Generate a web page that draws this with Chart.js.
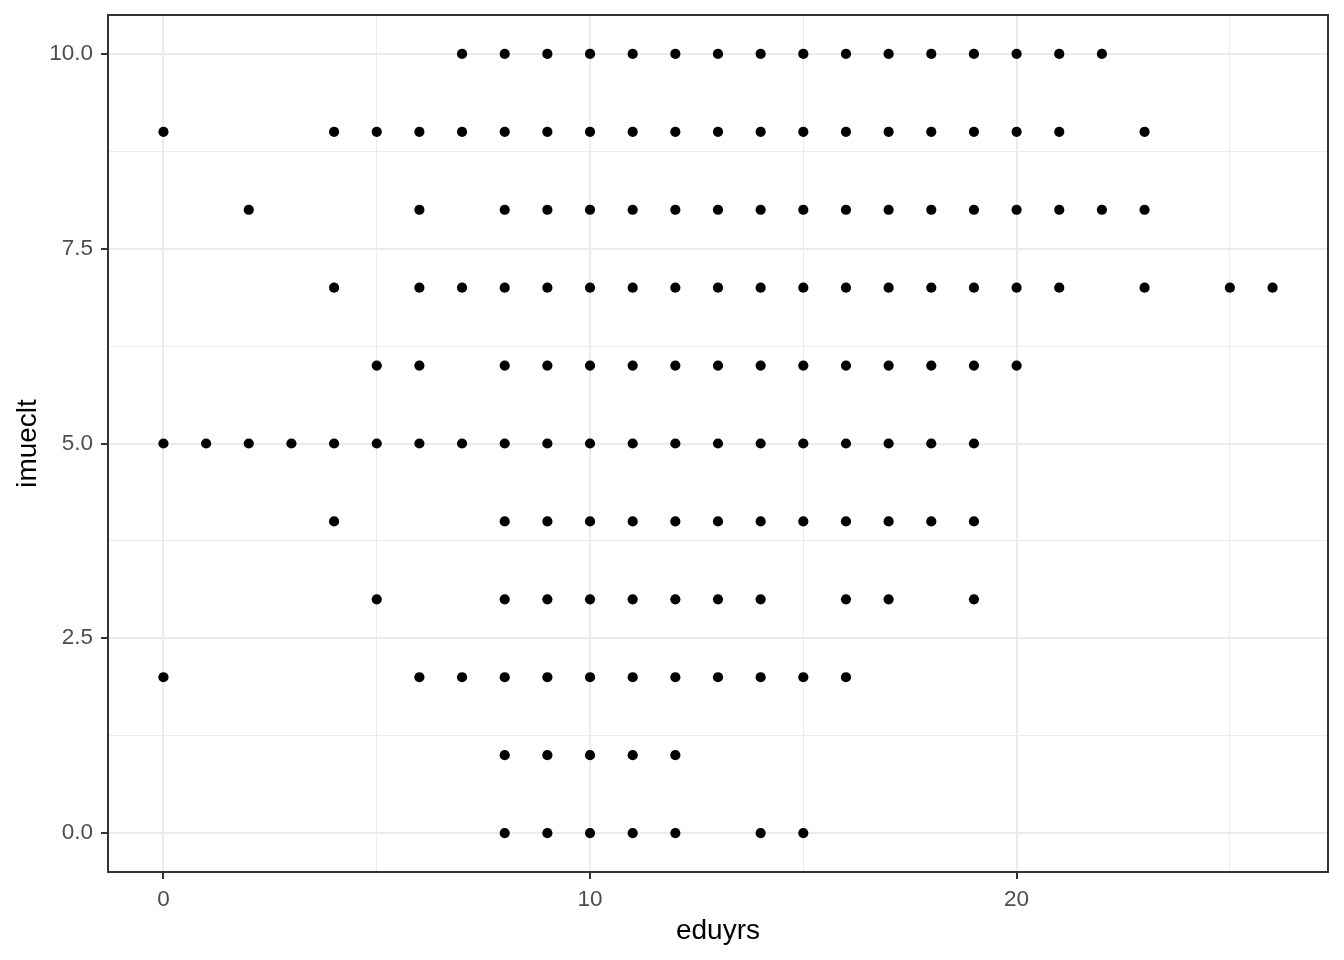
<!DOCTYPE html>
<html>
<head>
<meta charset="utf-8">
<script src="https://cdn.jsdelivr.net/npm/chart.js@4.4.1/dist/chart.umd.min.js"></script>
<style>
  html, body { margin: 0; padding: 0; background: #ffffff; }
  canvas { display: block; background: #ffffff; }
</style>
</head>
<body>
<canvas id="c" width="1344" height="960"></canvas>
<script>
// ---- data: eduyrs values observed at each imueclt level ----
const imueclt10 = [7,8,9,10,11,12,13,14,15,16,17,18,19,20,21,22];
const imueclt9  = [0,4,5,6,7,8,9,10,11,12,13,14,15,16,17,18,19,20,21,23];
const imueclt8  = [2,6,8,9,10,11,12,13,14,15,16,17,18,19,20,21,22,23];
const imueclt7  = [4,6,7,8,9,10,11,12,13,14,15,16,17,18,19,20,21,23,25,26];
const imueclt6  = [5,6,8,9,10,11,12,13,14,15,16,17,18,19,20];
const imueclt5  = [0,1,2,3,4,5,6,7,8,9,10,11,12,13,14,15,16,17,18,19];
const imueclt4  = [4,8,9,10,11,12,13,14,15,16,17,18,19];
const imueclt3  = [5,8,9,10,11,12,13,14,16,17,19];
const imueclt2  = [0,6,7,8,9,10,11,12,13,14,15,16];
const imueclt1  = [8,9,10,11,12];
const imueclt0  = [8,9,10,11,12,14,15];

const levels = [10,9,8,7,6,5,4,3,2,1,0];
const rows = [imueclt10, imueclt9, imueclt8, imueclt7, imueclt6, imueclt5, imueclt4, imueclt3, imueclt2, imueclt1, imueclt0];

// ---- axis breaks ----
const xMajorTicks = [0, 10, 20];
const xMinorTicks = [5, 15, 25];
const yMajorTicks = [0, 2.5, 5, 7.5, 10];
const yMinorTicks = [1.25, 3.75, 6.25, 8.75];

const xTitle = 'eduyrs';
const yTitle = 'imueclt';

const points = [];
rows.forEach((xs, i) => xs.forEach(x => points.push({ x: x, y: levels[i] })));

const FONT = '"Liberation Sans", Arial, Helvetica, sans-serif';
const GRID = '#EBEBEB';
const INK = '#333333';

function isMajor(list, v) { return list.some(m => Math.abs(m - v) < 1e-9); }

const panelBorder = {
  id: 'panelBorder',
  afterDatasetsDraw(chart) {
    const a = chart.chartArea, ctx = chart.ctx;
    ctx.save();
    ctx.strokeStyle = INK;
    ctx.lineWidth = 2;
    ctx.strokeRect(a.left, a.top, a.right - a.left, a.bottom - a.top);
    ctx.restore();
  }
};

new Chart(document.getElementById('c'), {
  type: 'scatter',
  data: {
    datasets: [{
      data: points,
      backgroundColor: '#000000',
      borderWidth: 0,
      pointRadius: 5.1,
      pointHoverRadius: 5.1
    }]
  },
  options: {
    responsive: false,
    devicePixelRatio: 1,
    animation: false,
    events: [],
    layout: { padding: { left: 0, top: 15, right: 16, bottom: 0 } },
    plugins: { legend: { display: false }, tooltip: { enabled: false } },
    scales: {
      x: {
        type: 'linear',
        min: -1.3,
        max: 27.3,
        afterBuildTicks(scale) {
          scale.ticks = xMajorTicks.concat(xMinorTicks).sort((a, b) => a - b).map(v => ({ value: v }));
        },
        afterFit(scale) { scale.height = 88; scale.paddingLeft = 0; scale.paddingRight = 0; },
        border: { display: false },
        grid: {
          color: GRID,
          lineWidth: ctx => isMajor(xMajorTicks, ctx.tick.value) ? 2 : 1,
          tickColor: ctx => isMajor(xMajorTicks, ctx.tick.value) ? INK : 'rgba(0,0,0,0)',
          tickWidth: 2,
          tickLength: 7
        },
        ticks: {
          autoSkip: false,
          maxRotation: 0,
          padding: 7,
          color: '#4D4D4D',
          font: { family: FONT, size: 22.5 },
          callback: v => isMajor(xMajorTicks, v) ? String(v) : ''
        },
        title: {
          display: true,
          text: xTitle,
          color: '#000000',
          font: { family: FONT, size: 28 },
          padding: { top: 0, bottom: 12 }
        }
      },
      y: {
        type: 'linear',
        min: -0.5,
        max: 10.5,
        afterBuildTicks(scale) {
          scale.ticks = yMajorTicks.concat(yMinorTicks).sort((a, b) => a - b).map(v => ({ value: v }));
        },
        afterFit(scale) { scale.width = 108; scale.paddingTop = 0; scale.paddingBottom = 0; },
        border: { display: false },
        grid: {
          color: GRID,
          lineWidth: ctx => isMajor(yMajorTicks, ctx.tick.value) ? 2 : 1,
          tickColor: ctx => isMajor(yMajorTicks, ctx.tick.value) ? INK : 'rgba(0,0,0,0)',
          tickWidth: 2,
          tickLength: 7
        },
        ticks: {
          autoSkip: false,
          padding: 8,
          color: '#4D4D4D',
          font: { family: FONT, size: 22.5 },
          callback: v => isMajor(yMajorTicks, v) ? Number(v).toFixed(1) : ''
        },
        title: {
          display: true,
          text: yTitle,
          color: '#000000',
          font: { family: FONT, size: 28 },
          padding: { top: 11, bottom: 0 }
        }
      }
    }
  },
  plugins: [panelBorder]
});
</script>
</body>
</html>
